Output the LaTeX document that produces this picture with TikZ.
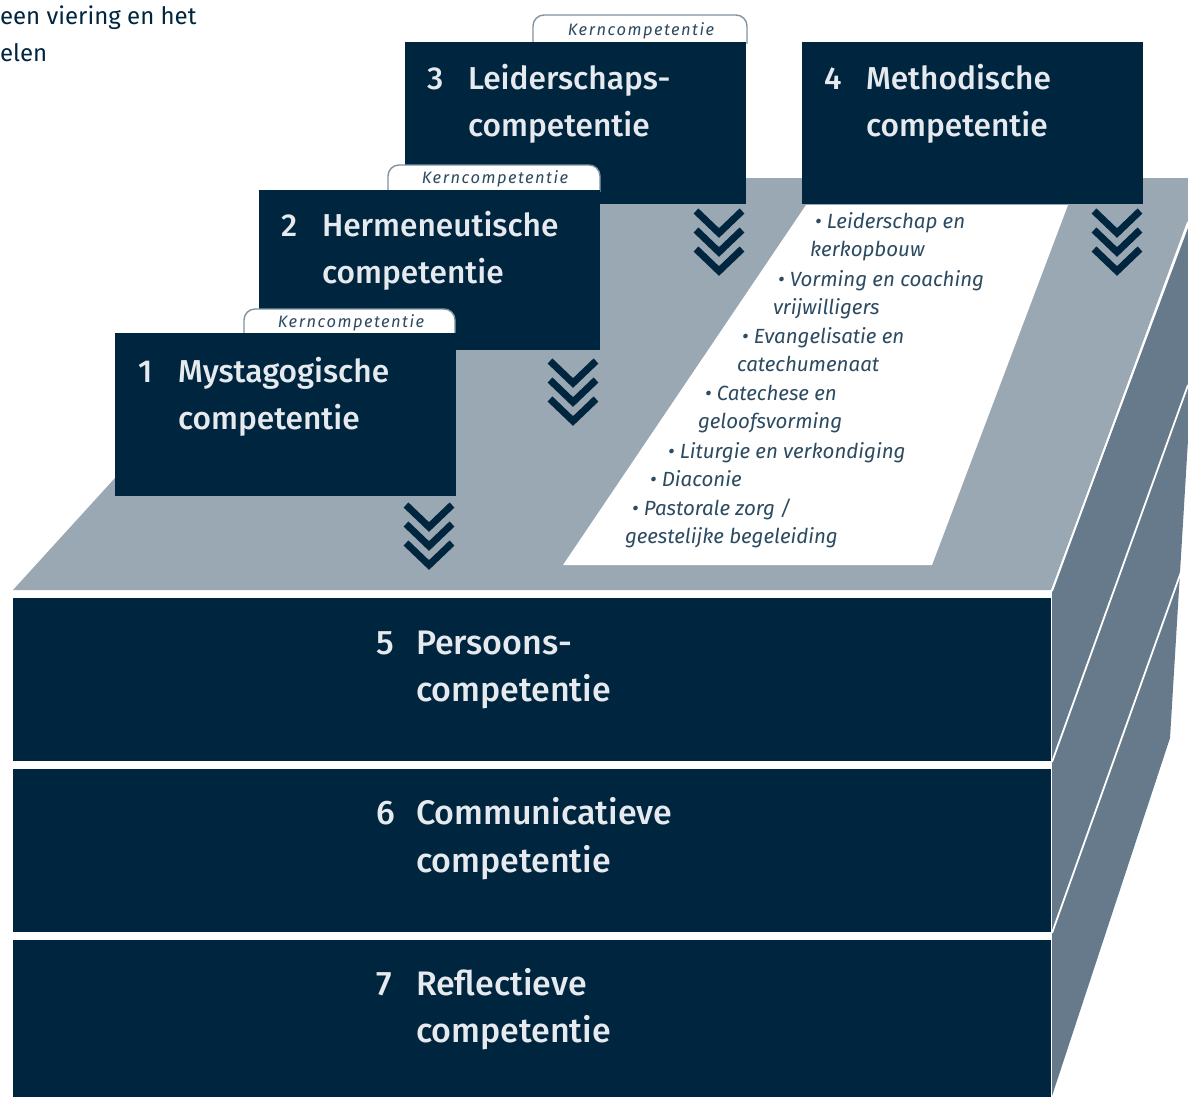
\documentclass[tikz,border=0pt]{standalone}
\usepackage{fontspec}
\setmainfont{Fira Sans}
\newfontfamily\headfont{Fira Sans Medium}
\definecolor{navy}{HTML}{00263F}
\definecolor{plane}{HTML}{9AA8B3}
\definecolor{sidec}{HTML}{677A8B}
\definecolor{headc}{HTML}{E6EAEE}
\definecolor{listc}{HTML}{2C4A60}
\definecolor{tabc}{HTML}{7F93A3}
\tikzset{
  box/.style={fill=navy,draw=none,anchor=north west,inner sep=0pt,outer sep=0pt},
  head/.style={anchor=base west,inner sep=0pt,outer sep=0pt,text=headc,font=\headfont\fontsize{31.7}{37}\selectfont},
  headlow/.style={anchor=base west,inner sep=0pt,outer sep=0pt,text=headc,font=\headfont\fontsize{34}{37}\selectfont},
  listitem/.style={anchor=base west,inner sep=0pt,outer sep=0pt,text=listc,font=\itshape\fontsize{20.5}{24}\selectfont},
  kern/.style={anchor=base,inner sep=0pt,outer sep=0pt,text=listc,font=\itshape\fontsize{16.5}{18}\selectfont\addfontfeature{LetterSpace=9}},
  intro/.style={anchor=base west,inner sep=0pt,outer sep=0pt,text=navy,font=\fontsize{24}{25}\selectfont},
  tabshape/.style={fill=white,draw=tabc,line width=1.4pt,rounded corners=11pt},
  chev/.style={draw=navy,line width=7pt,miter limit=10},
  sep/.style={draw=white,line width=1.8pt}
}
\newcommand{\chevrons}[2]{%
  \foreach \k in {0,1,2}{
    \draw[chev] (#1-23,#2+19*\k) -- (#1,#2+22+19*\k) -- (#1+23,#2+19*\k);
  }}
\begin{document}
\begin{tikzpicture}[x=1pt,y=-1pt]
\clip (0,0) rectangle (1188,1096);
\fill[white] (0,0) rectangle (1188,1096);
% intro text
\node[intro] (introa) at (0,24) {een viering en het};
\node[intro] (introb) at (0,61) {elen};
% top plane
\fill[plane] (13,590) -- (1051,590) -- (1188,222) -- (1188,178) -- (600,178) -- (600,300) -- (247,333) -- cycle;
% side
\fill[sidec] (1052,592) -- (1188,228) -- (1188,440) -- (1170,738) -- (1052,1096) -- cycle;
\draw[sep] (1052,591) -- (1188,222);
\draw[sep] (1052,762) -- (1188,385);
\draw[sep] (1052,933) -- (1181,572);
% white plate
\fill[white] (806,205) -- (1068,205) -- (932,565) -- (563,565) -- cycle;
% bottom boxes
\node[box,minimum width=1038pt,minimum height=163pt] (b5) at (13,598) {};
\node[box,minimum width=1038pt,minimum height=163pt] (b6) at (13,769) {};
\node[box,minimum width=1038pt,minimum height=160pt] (b7) at (13,940) {};
% stepped boxes, back to front, each with its tab
\draw[tabshape] (533,44) -- (533,15) -- (747,15) -- (747,44);
\node[box,minimum width=341pt,minimum height=162pt] (b3) at (405,42) {};
\node[box,minimum width=341pt,minimum height=162pt] (b4) at (802,42) {};
\draw[tabshape] (388,192) -- (388,165) -- (600,165) -- (600,192);
\node[box,minimum width=341pt,minimum height=160pt] (b2) at (259,190) {};
\draw[tabshape] (244,335) -- (244,309) -- (455,309) -- (455,335);
\node[box,minimum width=341pt,minimum height=163pt] (b1) at (115,333) {};
% chevrons
\chevrons{429}{505}
\chevrons{573}{361}
\chevrons{719}{211}
\chevrons{1117}{211}
% tab labels
\node[kern] (k3) at (641,35) {Kerncompetentie};
\node[kern] (k2) at (495,183) {Kerncompetentie};
\node[kern] (k1) at (351,327) {Kerncompetentie};
% headings
\node[head] (n3) at (427,89) {3};
\node[head] (t3a) at (468,89) {Leiderschaps-};
\node[head] (t3b) at (468,136) {competentie};
\node[head] (n4) at (824,89) {4};
\node[head] (t4a) at (866,89) {Methodische};
\node[head] (t4b) at (866,136) {competentie};
\node[head] (n2) at (281,236) {2};
\node[head] (t2a) at (322,236) {Hermeneutische};
\node[head] (t2b) at (322,283) {competentie};
\node[head] (n1) at (138,382) {1};
\node[head] (t1a) at (178,382) {Mystagogische};
\node[head] (t1b) at (178,429) {competentie};
\node[headlow] (n5) at (376,654) {5};
\node[headlow] (t5a) at (416,654) {Persoons-};
\node[headlow] (t5b) at (416,701) {competentie};
\node[headlow] (n6) at (376,824) {6};
\node[headlow] (t6a) at (416,824) {Communicatieve};
\node[headlow] (t6b) at (416,872) {competentie};
\node[headlow] (n7) at (376,995) {7};
\node[headlow] (t7a) at (416,995) {Reflectieve};
\node[headlow] (t7b) at (416,1042) {competentie};
% list
\node[listitem] (l1) at (815,228) {• Leiderschap en};
\node[listitem] (l2) at (810,256) {kerkopbouw};
\node[listitem] (l3) at (778,286) {• Vorming en coaching};
\node[listitem] (l4) at (773,314) {vrijwilligers};
\node[listitem] (l5) at (742,343) {• Evangelisatie en};
\node[listitem] (l6) at (737,371) {catechumenaat};
\node[listitem] (l7) at (705,400) {• Catechese en};
\node[listitem] (l8) at (698,428) {geloofsvorming};
\node[listitem] (l9) at (668,458) {• Liturgie en verkondiging};
\node[listitem] (l10) at (650,486) {• Diaconie};
\node[listitem] (l11) at (632,515) {• Pastorale zorg /};
\node[listitem] (l12) at (625,543) {geestelijke begeleiding};
\end{tikzpicture}
\end{document}
